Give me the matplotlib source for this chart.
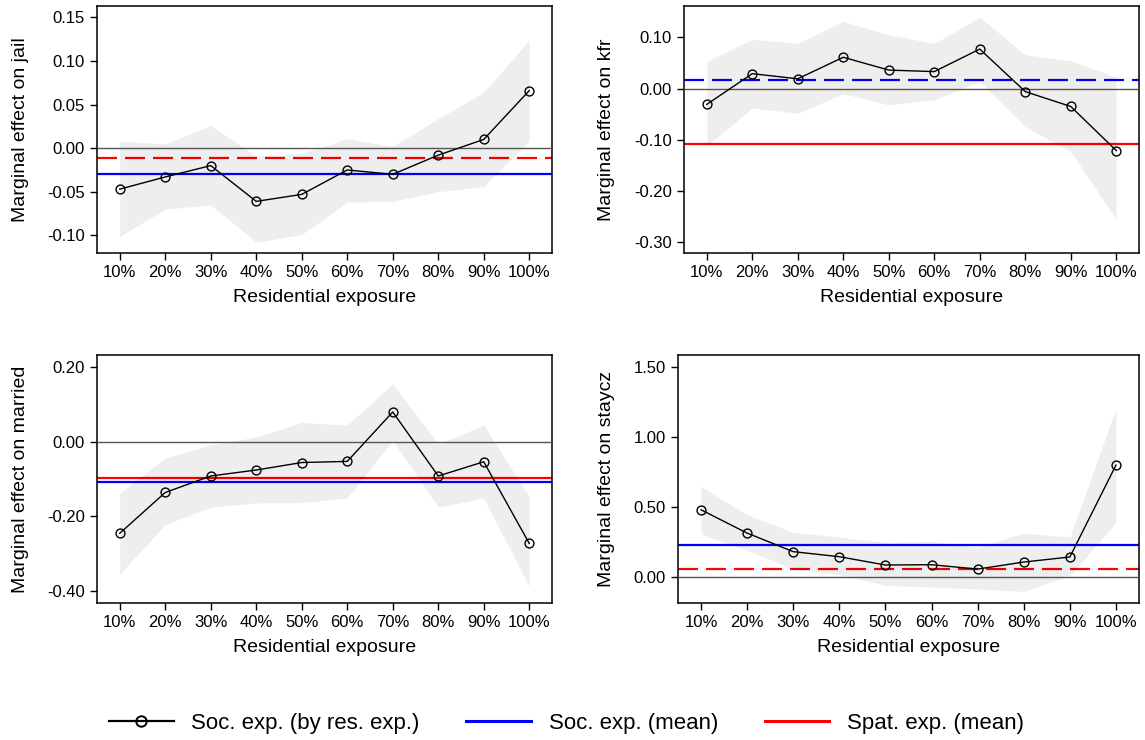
import matplotlib
matplotlib.use("Agg")
import matplotlib.pyplot as plt
import numpy as np
from matplotlib.lines import Line2D
from matplotlib.transforms import blended_transform_factory

plt.rcParams['font.family'] = ['Liberation Sans', 'DejaVu Sans']
plt.rcParams['axes.unicode_minus'] = False

# data
exposure = ['10%', '20%', '30%', '40%', '50%', '60%', '70%', '80%', '90%', '100%']
outcomes = ['jail', 'kfr', 'married', 'staycz']

jail_est = [-0.047, -0.033, -0.020, -0.061, -0.053, -0.025, -0.030, -0.008, 0.010, 0.066]
jail_lo = [-0.101, -0.070, -0.065, -0.108, -0.099, -0.062, -0.061, -0.050, -0.044, 0.008]
jail_hi = [0.008, 0.005, 0.026, -0.009, -0.006, 0.011, 0.002, 0.034, 0.064, 0.124]

kfr_est = [-0.031, 0.029, 0.019, 0.061, 0.036, 0.033, 0.077, -0.006, -0.035, -0.121]
kfr_lo = [-0.112, -0.038, -0.048, -0.010, -0.032, -0.022, 0.014, -0.075, -0.123, -0.256]
kfr_hi = [0.053, 0.096, 0.088, 0.131, 0.105, 0.088, 0.139, 0.066, 0.054, 0.022]

married_est = [-0.245, -0.136, -0.092, -0.076, -0.056, -0.053, 0.079, -0.092, -0.054, -0.272]
married_lo = [-0.354, -0.222, -0.175, -0.164, -0.163, -0.151, 0.003, -0.175, -0.151, -0.387]
married_hi = [-0.138, -0.044, -0.009, 0.012, 0.051, 0.044, 0.154, -0.006, 0.044, -0.147]

staycz_est = [0.481, 0.315, 0.183, 0.147, 0.088, 0.090, 0.059, 0.109, 0.145, 0.799]
staycz_lo = [0.308, 0.192, 0.059, 0.019, -0.057, -0.069, -0.083, -0.100, 0.012, 0.391]
staycz_hi = [0.647, 0.446, 0.320, 0.287, 0.249, 0.256, 0.216, 0.315, 0.287, 1.204]

soc_mean = [-0.030, 0.0175, -0.107, 0.232]
spat_mean = [-0.011, -0.109, -0.098, 0.062]

y_ticks = [
    [-0.10, -0.05, 0.00, 0.05, 0.10, 0.15],
    [-0.30, -0.20, -0.10, 0.00, 0.10],
    [-0.40, -0.20, 0.00, 0.20],
    [0.00, 0.50, 1.00, 1.50],
]
y_lims = [(-0.1202, 0.163), (-0.3208, 0.161), (-0.4311, 0.2311), (-0.1825, 1.583)]

est = [jail_est, kfr_est, married_est, staycz_est]
lo = [jail_lo, kfr_lo, married_lo, staycz_lo]
hi = [jail_hi, kfr_hi, married_hi, staycz_hi]

# which mean line is dashed in each panel
soc_dashed = [False, True, False, False]
spat_dashed = [True, False, False, True]

W, H = 1145, 740
fig = plt.figure(figsize=(W / 100, H / 100), dpi=100)

# axes boxes in pixels: left, right, top, bottom
boxes = [(97, 552, 6, 253), (684, 1139, 6, 253), (97, 552, 355, 603), (678, 1139, 355, 603)]
ylab_x = [29, 615, 29, 615]

BLUE = '#0000ff'
RED = '#ff0000'
dash = (0, (9, 3.6))

x = np.arange(1, len(exposure) + 1)

for i, name in enumerate(outcomes):
    l, r, t, b = boxes[i]
    ax = fig.add_axes([l / W, 1 - b / H, (r - l) / W, (b - t) / H])

    ax.axhline(soc_mean[i], color=BLUE, lw=1.6, zorder=1,
               linestyle=dash if soc_dashed[i] else '-')
    ax.axhline(spat_mean[i], color=RED, lw=1.6, zorder=1,
               linestyle=dash if spat_dashed[i] else '-')
    ax.fill_between(x, lo[i], hi[i], color='black', alpha=0.065, lw=0, zorder=2)
    ax.axhline(0, color='#555555', lw=1.0, zorder=3)
    ax.plot(x, est[i], color='black', lw=1.0, marker='o', markersize=6.4,
            markerfacecolor='none', markeredgecolor='black', markeredgewidth=1.0, zorder=4)

    ax.set_xlim(0.5, 10.5)
    ax.set_ylim(*y_lims[i])
    ax.set_xticks(x)
    ax.set_xticklabels(exposure)
    ax.set_yticks(y_ticks[i])
    ax.set_yticklabels(['%.2f' % v for v in y_ticks[i]])
    ax.tick_params(axis='both', labelsize=12, length=5, width=1.0, pad=3.6, color='black')
    for s in ax.spines.values():
        s.set_linewidth(1.1)
        s.set_color('black')

    ax.set_xlabel('Residential exposure', fontsize=14)
    ax.xaxis.set_label_coords(0.5, 1 - (b + 36) / H,
                              transform=blended_transform_factory(ax.transAxes, fig.transFigure))
    ax.set_ylabel('Marginal effect on ' + name, fontsize=14)
    ax.yaxis.set_label_coords(ylab_x[i] / W, 0.5,
                              transform=blended_transform_factory(fig.transFigure, ax.transAxes))

handles = [
    Line2D([], [], color='black', lw=1.6, marker='o', markersize=7.5,
           markerfacecolor='none', markeredgecolor='black', markeredgewidth=1.4),
    Line2D([], [], color=BLUE, lw=2.2),
    Line2D([], [], color=RED, lw=2.2),
]
labels = ['Soc. exp. (by res. exp.)', 'Soc. exp. (mean)', 'Spat. exp. (mean)']
fig.legend(handles, labels, loc='center', bbox_to_anchor=(566.5 / W, 1 - 723 / H),
           ncol=3, frameon=False, fontsize=16, handlelength=2.9, handletextpad=0.8,
           columnspacing=2.1)

fig.savefig('out.png', dpi=100)
